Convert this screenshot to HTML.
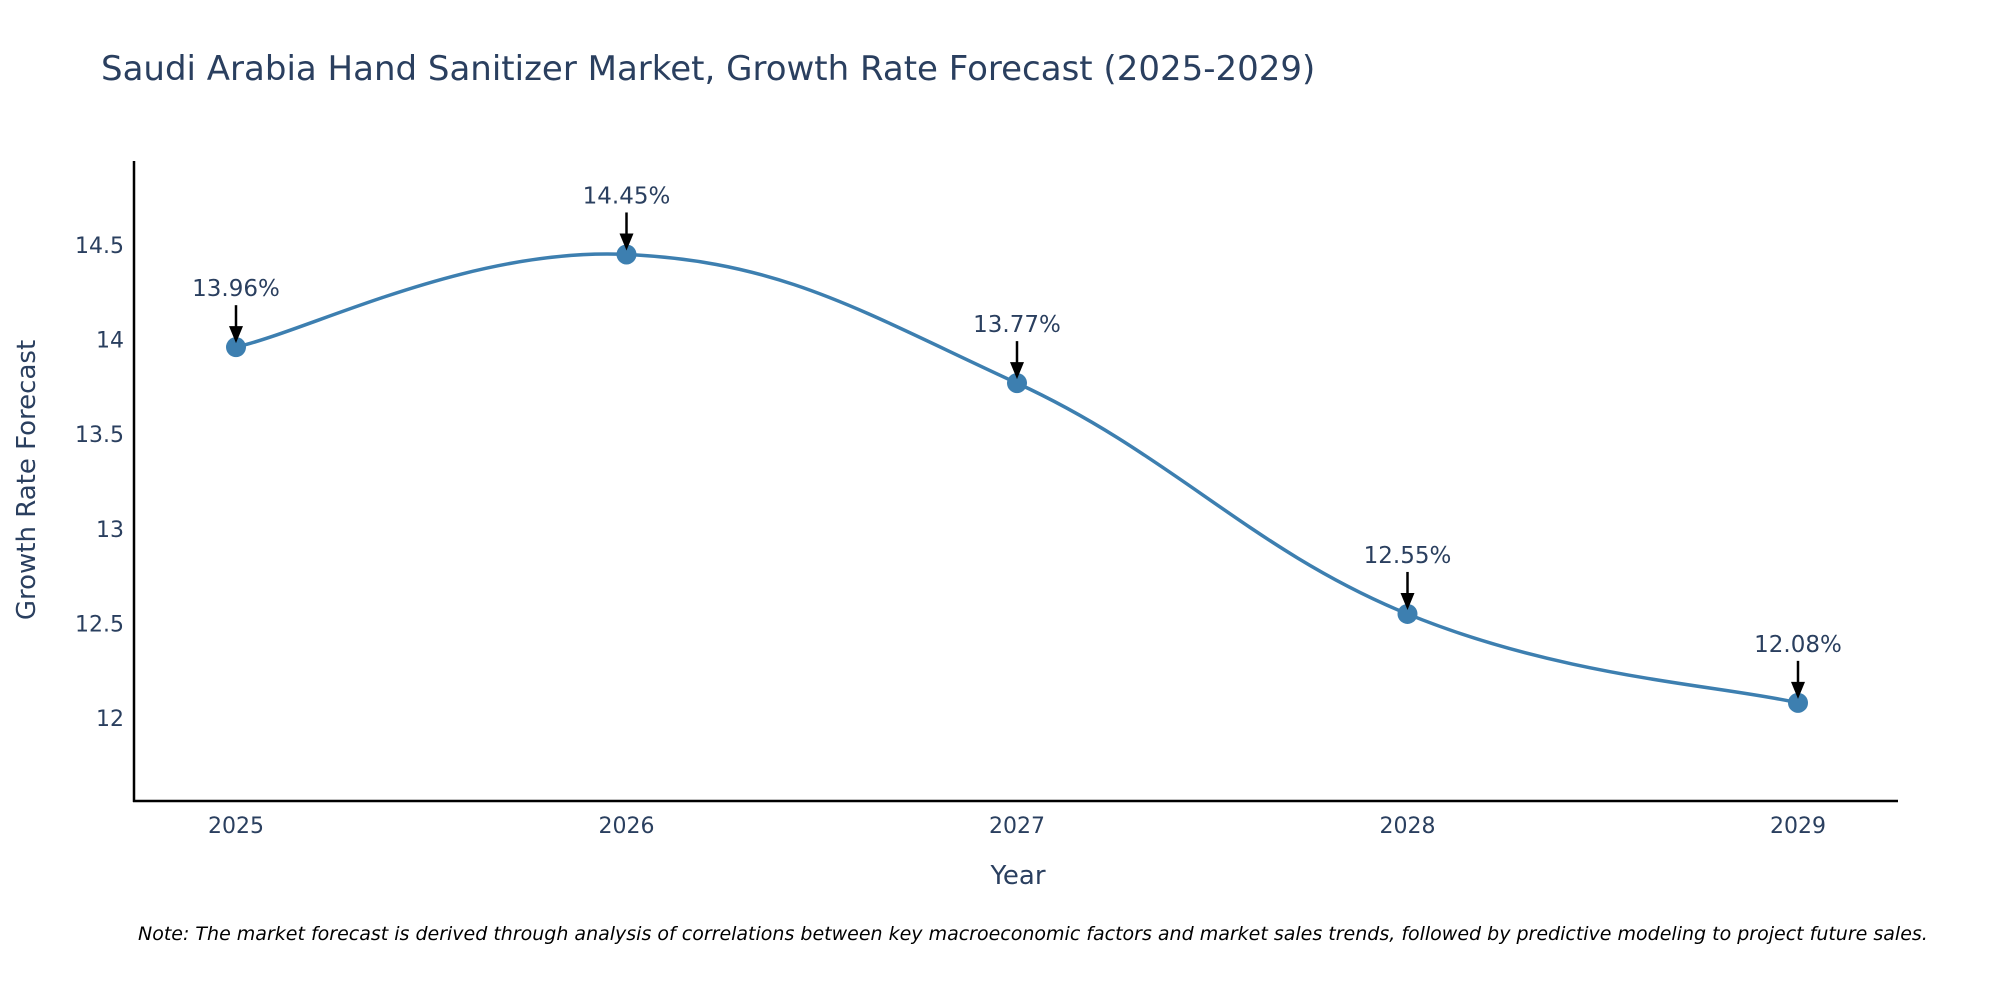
<!DOCTYPE html>
<html><head><meta charset="utf-8"><style>
body{margin:0;background:#fff;}
svg{display:block;font-family:"DejaVu Sans","Liberation Sans",sans-serif;}
</style></head><body>
<svg id="chart" width="2000" height="1000" viewBox="0 0 2000 1000">
<text x="101" y="80" font-size="34" fill="#2a3f5f">Saudi Arabia Hand Sanitizer Market, Growth Rate Forecast (2025-2029)</text>
<g id="grid"></g>
<line x1="134" y1="161" x2="134" y2="802" stroke="#000" stroke-width="2.5"/>
<line x1="133" y1="801" x2="1898" y2="801" stroke="#000" stroke-width="2.5"/>
<g id="yticks"></g><g id="xticks"></g>
<path id="line" fill="none" stroke="#3d7fb0" stroke-width="3.5"/>
<g id="points"></g><g id="annots"></g>
<text x="1018" y="884" font-size="26" fill="#2a3f5f" text-anchor="middle">Year</text>
<text transform="translate(35,480) rotate(-90)" font-size="26" fill="#2a3f5f" text-anchor="middle">Growth Rate Forecast</text>
<text x="138" y="940" font-size="19" font-style="italic" fill="#000">Note: The market forecast is derived through analysis of correlations between key macroeconomic factors and market sales trends, followed by predictive modeling to project future sales.</text>
</svg>
<script>
const years=["2025","2026","2027","2028","2029"];
const values=[13.96,14.45,13.77,12.55,12.08];
const yTicks=[12,12.5,13,13.5,14,14.5];
const yTickLabels=["12","12.5","13","13.5","14","14.5"];
const NS="http://www.w3.org/2000/svg";
const xPos=i=>236+i*(1798-236)/(years.length-1);
const yPos=v=>718-(v-12)*189.2;
function mk(t,a,p){const e=document.createElementNS(NS,t);for(const k in a)e.setAttribute(k,a[k]);p.appendChild(e);return e;}
const yt=document.getElementById('yticks');
yTicks.forEach((v,i)=>{const t=mk('text',{x:124,y:yPos(v)+8,'font-size':22,fill:'#2a3f5f','text-anchor':'end'},yt);t.textContent=yTickLabels[i];

});
const xt=document.getElementById('xticks');
years.forEach((y,i)=>{const t=mk('text',{x:xPos(i),y:833,'font-size':22,fill:'#2a3f5f','text-anchor':'middle'},xt);t.textContent=y;

});
const P=values.map((v,i)=>[xPos(i),yPos(v)]);
let d=`M${P[0][0]},${P[0][1]}`;const s=0.2;
for(let i=0;i<P.length-1;i++){const p0=P[Math.max(0,i-1)],p1=P[i],p2=P[i+1],p3=P[Math.min(P.length-1,i+2)];
d+=` C${p1[0]+(p2[0]-p0[0])*s},${p1[1]+(p2[1]-p0[1])*s} ${p2[0]-(p3[0]-p1[0])*s},${p2[1]-(p3[1]-p1[1])*s} ${p2[0]},${p2[1]}`;}
document.getElementById('line').setAttribute('d',d);
const pts=document.getElementById('points'),an=document.getElementById('annots');
P.forEach((p,i)=>{const c=mk('circle',{cx:p[0],cy:p[1],r:10,fill:'#3d7fb0'},pts);


const l=mk('line',{x1:p[0],y1:p[1]-42,x2:p[0],y2:p[1]-20,stroke:'#000','stroke-width':2.5},an);


const h=mk('polygon',{points:`${p[0]-7},${p[1]-21} ${p[0]+7},${p[1]-21} ${p[0]},${p[1]-4}`,fill:'#000'},an);


const t=mk('text',{x:p[0],y:p[1]-51,'font-size':23,fill:'#2a3f5f','text-anchor':'middle'},an);t.textContent=values[i].toFixed(2)+'%';

});
</script>
</body></html>
